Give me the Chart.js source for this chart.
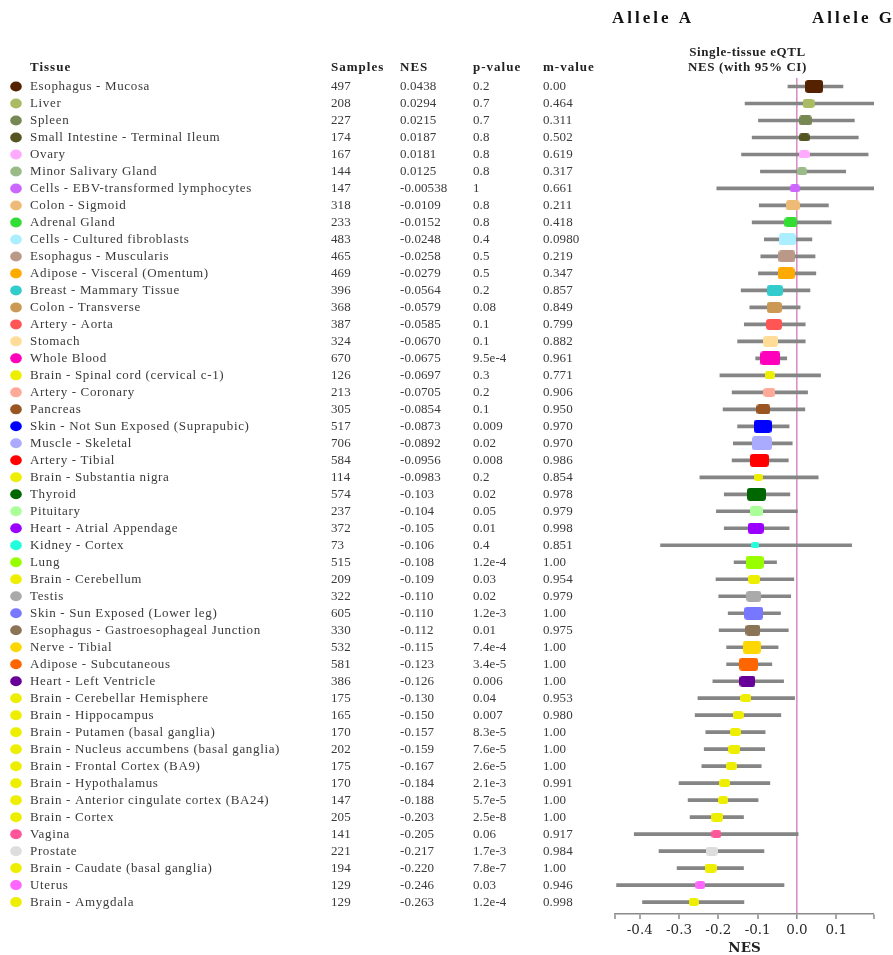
<!DOCTYPE html>
<html>
<head>
<meta charset="utf-8">
<script src="https://cdn.jsdelivr.net/npm/chart.js@4.4.0/dist/chart.umd.min.js"></script>
<style>
  html, body { margin: 0; padding: 0; background: #fff; overflow: hidden; }
  canvas { display: block; }
</style>
</head>
<body>
<canvas id="c" width="893" height="955"></canvas>
<script>
// ---- Single-tissue eQTL results, one entry per tissue ----
const tissues = [
  'Esophagus - Mucosa', 'Liver', 'Spleen', 'Small Intestine - Terminal Ileum', 'Ovary',
  'Minor Salivary Gland', 'Cells - EBV-transformed lymphocytes', 'Colon - Sigmoid', 'Adrenal Gland',
  'Cells - Cultured fibroblasts', 'Esophagus - Muscularis', 'Adipose - Visceral (Omentum)',
  'Breast - Mammary Tissue', 'Colon - Transverse', 'Artery - Aorta', 'Stomach', 'Whole Blood',
  'Brain - Spinal cord (cervical c-1)', 'Artery - Coronary', 'Pancreas',
  'Skin - Not Sun Exposed (Suprapubic)', 'Muscle - Skeletal', 'Artery - Tibial',
  'Brain - Substantia nigra', 'Thyroid', 'Pituitary', 'Heart - Atrial Appendage', 'Kidney - Cortex',
  'Lung', 'Brain - Cerebellum', 'Testis', 'Skin - Sun Exposed (Lower leg)',
  'Esophagus - Gastroesophageal Junction', 'Nerve - Tibial', 'Adipose - Subcutaneous',
  'Heart - Left Ventricle', 'Brain - Cerebellar Hemisphere', 'Brain - Hippocampus',
  'Brain - Putamen (basal ganglia)', 'Brain - Nucleus accumbens (basal ganglia)',
  'Brain - Frontal Cortex (BA9)', 'Brain - Hypothalamus', 'Brain - Anterior cingulate cortex (BA24)',
  'Brain - Cortex', 'Vagina', 'Prostate', 'Brain - Caudate (basal ganglia)', 'Uterus', 'Brain - Amygdala'
];

const tissueColors = [
  '#552200', '#AABB66', '#778855', '#555522', '#FFAAFF',
  '#99BB88', '#CC66FF', '#EEBB77', '#33DD33',
  '#AAEEFF', '#BB9988', '#FFAA00',
  '#33CCCC', '#CC9955', '#FF5555', '#FFDD99', '#FF00BB',
  '#EEEE00', '#FFAA99', '#995522',
  '#0000FF', '#AAAAFF', '#FF0000',
  '#EEEE00', '#006600', '#AAFF99', '#9900FF', '#22FFDD',
  '#99FF00', '#EEEE00', '#AAAAAA', '#7777FF',
  '#8B7355', '#FFD700', '#FF6600',
  '#660099', '#EEEE00', '#EEEE00',
  '#EEEE00', '#EEEE00',
  '#EEEE00', '#EEEE00', '#EEEE00',
  '#EEEE00', '#FF5599', '#DDDDDD', '#EEEE00', '#FF66FF', '#EEEE00'
];

const samples = [
  497, 208, 227, 174, 167, 144, 147, 318, 233, 483, 465, 469, 396, 368, 387, 324, 670,
  126, 213, 305, 517, 706, 584, 114, 574, 237, 372, 73, 515, 209, 322, 605, 330, 532,
  581, 386, 175, 165, 170, 202, 175, 170, 147, 205, 141, 221, 194, 129, 129
];

const nes = [
  0.0438, 0.0294, 0.0215, 0.0187, 0.0181, 0.0125, -0.00538, -0.0109, -0.0152, -0.0248,
  -0.0258, -0.0279, -0.0564, -0.0579, -0.0585, -0.0670, -0.0675, -0.0697, -0.0705, -0.0854,
  -0.0873, -0.0892, -0.0956, -0.0983, -0.103, -0.104, -0.105, -0.106, -0.108, -0.109,
  -0.110, -0.110, -0.112, -0.115, -0.123, -0.126, -0.130, -0.150, -0.157, -0.159,
  -0.167, -0.184, -0.188, -0.203, -0.205, -0.217, -0.220, -0.246, -0.263
];

const pValues = [
  0.2, 0.7, 0.7, 0.8, 0.8, 0.8, 1, 0.8, 0.8, 0.4, 0.5, 0.5, 0.2, 0.08, 0.1, 0.1, 9.5e-4,
  0.3, 0.2, 0.1, 0.009, 0.02, 0.008, 0.2, 0.02, 0.05, 0.01, 0.4, 1.2e-4, 0.03, 0.02, 1.2e-3,
  0.01, 7.4e-4, 3.4e-5, 0.006, 0.04, 0.007, 8.3e-5, 7.6e-5, 2.6e-5, 2.1e-3, 5.7e-5, 2.5e-8,
  0.06, 1.7e-3, 7.8e-7, 0.03, 1.2e-4
];

const mValues = [
  0.00, 0.464, 0.311, 0.502, 0.619, 0.317, 0.661, 0.211, 0.418, 0.0980, 0.219, 0.347,
  0.857, 0.849, 0.799, 0.882, 0.961, 0.771, 0.906, 0.950, 0.970, 0.970, 0.986, 0.854,
  0.978, 0.979, 0.998, 0.851, 1.00, 0.954, 0.979, 1.00, 0.975, 1.00, 1.00, 1.00, 0.953,
  0.980, 1.00, 1.00, 1.00, 0.991, 1.00, 1.00, 0.917, 0.984, 1.00, 0.946, 0.998
];

// 95% confidence interval bounds of NES
const ciLow = [
  -0.023, -0.132, -0.098, -0.114, -0.141, -0.093, -0.204, -0.096, -0.114, -0.083,
  -0.092, -0.098, -0.142, -0.120, -0.134, -0.151, -0.105, -0.196, -0.165, -0.188,
  -0.151, -0.162, -0.165, -0.247, -0.185, -0.205, -0.185, -0.347, -0.160, -0.206,
  -0.199, -0.175, -0.198, -0.179, -0.179, -0.214, -0.252, -0.259, -0.232, -0.236,
  -0.242, -0.300, -0.277, -0.272, -0.414, -0.351, -0.305, -0.459, -0.393
];
const ciHigh = [
  0.117, 0.198, 0.146, 0.156, 0.181, 0.124, 0.199, 0.080, 0.087, 0.038,
  0.046, 0.048, 0.033, 0.008, 0.021, 0.021, -0.026, 0.060, 0.027, 0.020,
  -0.020, -0.012, -0.022, 0.054, -0.018, 0.001, -0.020, 0.139, -0.052, -0.008,
  -0.016, -0.042, -0.022, -0.048, -0.064, -0.034, -0.006, -0.041, -0.081, -0.082,
  -0.091, -0.069, -0.099, -0.136, 0.003, -0.084, -0.136, -0.033, -0.135
];

const xTicks = [-0.4, -0.3, -0.2, -0.1, 0.0, 0.1];

// ---- formatting helpers ----
const fmtP = p => (p < 0.005 ? p.toExponential(1) : String(p));
const fmt3 = v => v.toPrecision(3);

const SERIF = '"Liberation Serif", "Times New Roman", serif';
const WIDE_SERIF = '"DejaVu Serif", serif';

// Effect markers: rounded boxes whose size grows with the sample count
function makeBox(n, color) {
  const w = Math.round(7.7 * Math.pow(n / 73, 0.43));
  const h = Math.round(1.5 + 0.62 * w);
  const c = document.createElement('canvas');
  c.width = w; c.height = h;
  const g = c.getContext('2d');
  const r = Math.min(3, h / 2.4);
  g.fillStyle = color;
  g.beginPath();
  g.moveTo(r, 0);
  g.lineTo(w - r, 0); g.quadraticCurveTo(w, 0, w, r);
  g.lineTo(w, h - r); g.quadraticCurveTo(w, h, w - r, h);
  g.lineTo(r, h); g.quadraticCurveTo(0, h, 0, h - r);
  g.lineTo(0, r); g.quadraticCurveTo(0, 0, r, 0);
  g.closePath();
  g.fill();
  return c;
}
const boxes = samples.map((n, i) => makeBox(n, tissueColors[i]));

function spacing(ctx, px) {
  if ('letterSpacing' in ctx) ctx.letterSpacing = px + 'px';
}

// ---- table at the left plus headings, laid out on the chart's row scale ----
const tablePlugin = {
  id: 'tissueTable',
  afterDraw(chart) {
    const { ctx, scales: { y }, chartArea } = chart;
    const cols = { name: 30, samples: 331, nes: 400, p: 473, m: 543 };
    ctx.save();
    ctx.textBaseline = 'middle';
    ctx.textAlign = 'left';

    const headY = y.getPixelForValue(0) - 18.5;
    ctx.fillStyle = '#222';
    ctx.font = 'bold 13px ' + SERIF;
    spacing(ctx, 1);
    ctx.fillText('Tissue', cols.name, headY);
    ctx.fillText('Samples', cols.samples, headY);
    ctx.fillText('NES', cols.nes, headY);
    ctx.fillText('p-value', cols.p, headY);
    ctx.fillText('m-value', cols.m, headY);

    ctx.font = '13px ' + SERIF;
    tissues.forEach((t, i) => {
      const py = y.getPixelForValue(i);
      ctx.fillStyle = tissueColors[i];
      ctx.beginPath();
      ctx.ellipse(16, py, 5.8, 5, 0, 0, Math.PI * 2);
      ctx.fill();
      ctx.fillStyle = '#3a3a3a';
      spacing(ctx, 0.65);
      ctx.fillText(t, cols.name, py);
      spacing(ctx, 0.1);
      ctx.fillText(String(samples[i]), cols.samples, py);
      ctx.fillText(fmt3(nes[i]), cols.nes, py);
      ctx.fillText(fmtP(pValues[i]), cols.p, py);
      ctx.fillText(fmt3(mValues[i]), cols.m, py);
    });

    // plot heading
    const cx = (chartArea.left + chartArea.right) / 2;
    ctx.textAlign = 'center';
    ctx.fillStyle = '#222';
    ctx.font = 'bold 13px ' + SERIF;
    spacing(ctx, 0.6);
    ctx.fillText('Single-tissue eQTL', cx + 3, headY - 15);
    ctx.fillText('NES (with 95% CI)', cx + 3, headY);

    // allele labels
    ctx.textAlign = 'left';
    ctx.font = 'bold 17px ' + SERIF;
    ctx.fillStyle = '#111';
    spacing(ctx, 3);
    ctx.fillText('Allele A', 612, 19);
    ctx.fillText('Allele G', 812, 19);
    spacing(ctx, 0);
    ctx.restore();
  }
};

new Chart(document.getElementById('c'), {
  type: 'scatter',
  data: {
    datasets: [
      {
        label: 'NES',
        order: 0,
        data: nes.map((v, i) => ({ x: v, y: i })),
        pointStyle: ctx => boxes[ctx.dataIndex],
        pointRadius: 5,
        pointHoverRadius: 5
      },
      {
        type: 'bar',
        label: '95% CI',
        order: 1,
        indexAxis: 'y',
        data: ciLow.map((lo, i) => ({ x: [lo, ciHigh[i]], y: i })),
        backgroundColor: '#858585',
        borderWidth: 0,
        barThickness: 3,
        grouped: false
      }
    ]
  },
  options: {
    responsive: false,
    animation: false,
    devicePixelRatio: 1,
    layout: { padding: { left: 615, right: 19, top: 78, bottom: 0 } },
    plugins: { legend: { display: false }, tooltip: { enabled: false } },
    scales: {
      x: {
        type: 'linear',
        offset: false,
        min: -0.463,
        max: 0.196,
        afterBuildTicks: s => { s.ticks = [s.min, ...xTicks, s.max].map(v => ({ value: v })); },
        afterFit: s => { s.height = 41; },
        ticks: {
          autoSkip: false,
          maxRotation: 0,
          padding: 3,
          color: '#2a2a2a',
          font: { family: WIDE_SERIF, size: 13.5 },
          callback: v => (xTicks.includes(v) ? v.toFixed(1) : '')
        },
        grid: {
          offset: false,
          drawOnChartArea: true,
          color: c => (c.tick && c.tick.value === 0 ? '#dd8fc9' : 'rgba(0,0,0,0)'),
          lineWidth: c => (c.tick && c.tick.value === 0 ? 1.6 : 0),
          tickColor: '#8a8a8a',
          tickWidth: 1.5,
          tickLength: 5
        },
        border: { display: true, color: '#8a8a8a', width: 1.5 },
        title: {
          display: true,
          text: 'NES',
          color: '#222',
          font: { family: WIDE_SERIF, size: 13.5, weight: 'bold', lineHeight: 1 },
          padding: { top: 0, bottom: 0 }
        }
      },
      y: {
        type: 'linear',
        offset: false,
        grid: { offset: false },
        reverse: true,
        min: -0.5,
        max: 48.7,
        display: false
      }
    }
  },
  plugins: [tablePlugin]
});
</script>
</body>
</html>
